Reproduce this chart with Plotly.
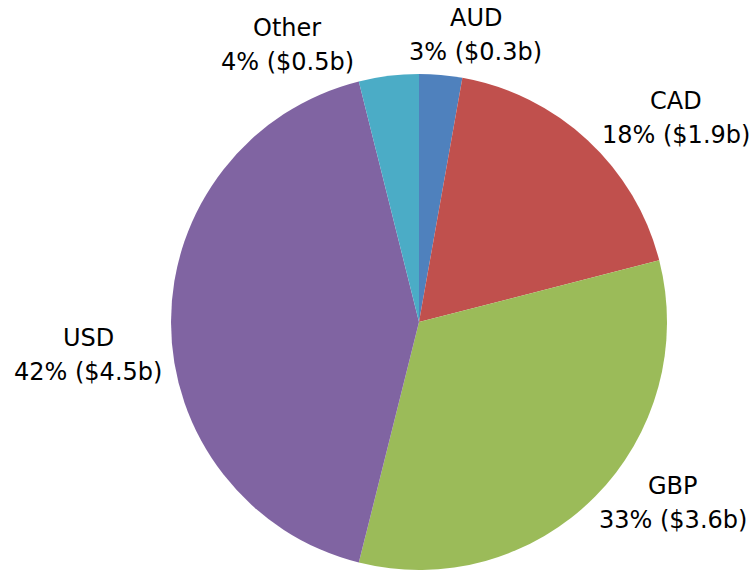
import plotly.graph_objects as go

currencies = ["AUD", "CAD", "GBP", "USD", "Other"]
shares = [2.8, 18.2, 32.9, 42.2, 3.9]          # slice sizes (%)
pct_labels = [3, 18, 33, 42, 4]
amounts_b = [0.3, 1.9, 3.6, 4.5, 0.5]
colors = ["#4F81BD", "#C0504D", "#9BBB59", "#8064A2", "#4BACC6"]

# label anchor positions (paper coords)
label_x = [0.631, 0.897, 0.893, 0.117, 0.381]
label_y = [0.939, 0.794, 0.124, 0.382, 0.922]

W, H = 754, 574
cx, cy, R = 419, 322, 248
LINE_GAP = 34
FONT = dict(family="DejaVu Sans", size=24, color="#000000")

fig = go.Figure(go.Pie(
    labels=currencies,
    values=shares,
    sort=False,
    direction="clockwise",
    rotation=0,
    marker=dict(colors=colors, line=dict(width=0)),
    textinfo="none",
    hoverinfo="label+percent",
    showlegend=False,
    domain=dict(x=[(cx - R) / W, (cx + R) / W],
                y=[(H - cy - R) / H, (H - cy + R) / H]),
))

for name, p, a, x, y in zip(currencies, pct_labels, amounts_b, label_x, label_y):
    fig.add_annotation(
        x=x, y=y, xref="paper", yref="paper", text=name,
        showarrow=False, xanchor="center", yanchor="middle",
        yshift=LINE_GAP / 2, font=FONT,
    )
    fig.add_annotation(
        x=x, y=y, xref="paper", yref="paper", text=f"{p}% (${a}b)",
        showarrow=False, xanchor="center", yanchor="middle",
        yshift=-LINE_GAP / 2, font=FONT,
    )

fig.update_layout(
    width=W, height=H,
    margin=dict(l=0, r=0, t=0, b=0),
    paper_bgcolor="white", plot_bgcolor="white",
)

fig.write_html("out.html",
               config={"displayModeBar": False},
               post_script="document.body.style.margin='0';document.body.style.overflow='hidden';")
